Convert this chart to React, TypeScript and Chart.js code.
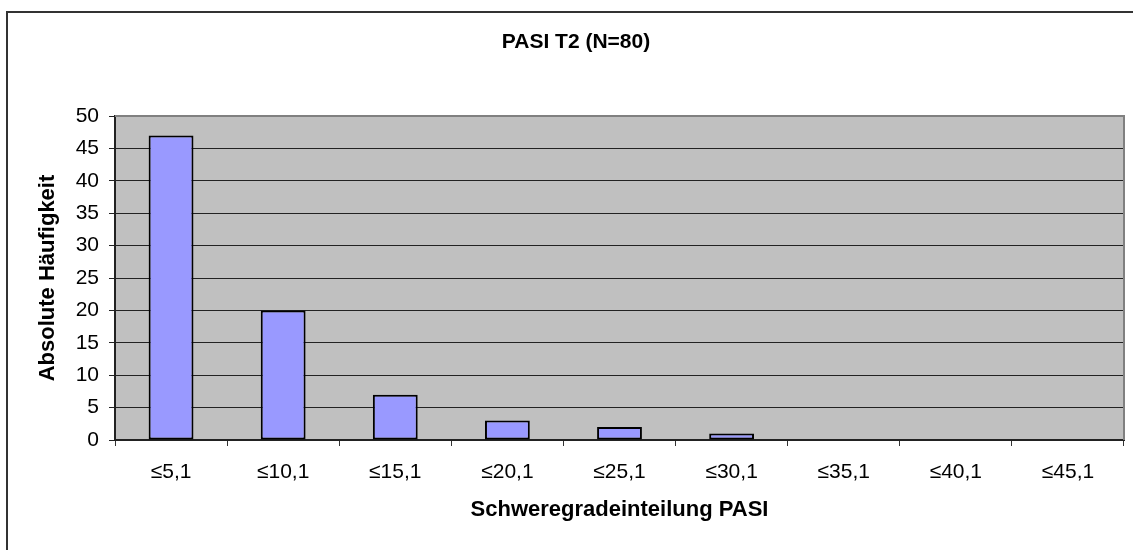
import React, { useEffect, useRef } from "react";
import { Chart, registerables } from "chart.js";

Chart.register(...registerables);

const categories = ["≤5,1", "≤10,1", "≤15,1", "≤20,1", "≤25,1", "≤30,1", "≤35,1", "≤40,1", "≤45,1"];
const counts = [47, 20, 7, 3, 2, 1, 0, 0, 0];
const chartTitle = "PASI T2 (N=80)";
const xTitle = "Schweregradeinteilung PASI";
const yTitle = "Absolute Häufigkeit";

const FONT = "'Liberation Sans', Arial, sans-serif";

const framePlugin = {
  id: "frame",
  beforeDraw(chart: any) {
    const { ctx, chartArea } = chart;
    const { left, top, right, bottom } = chartArea;
    ctx.save();
    ctx.fillStyle = "#ffffff";
    ctx.fillRect(0, 0, chart.width, chart.height);
    // outer chart border (left and top visible)
    ctx.strokeStyle = "#333333";
    ctx.lineWidth = 2;
    ctx.beginPath();
    ctx.moveTo(7, chart.height + 2);
    ctx.lineTo(7, 12);
    ctx.lineTo(chart.width + 2, 12);
    ctx.stroke();
    // plot area
    ctx.fillStyle = "#C0C0C0";
    ctx.fillRect(left, top, right - left, bottom - top);
    ctx.restore();
  },
  afterDatasetsDraw(chart: any) {
    const { ctx, chartArea } = chart;
    const { left, top, right, bottom } = chartArea;
    ctx.save();
    ctx.strokeStyle = "#808080";
    ctx.lineWidth = 2;
    ctx.beginPath();
    ctx.moveTo(left, top);
    ctx.lineTo(right, top);
    ctx.lineTo(right, bottom);
    ctx.stroke();
    // title
    ctx.fillStyle = "#000";
    ctx.font = `bold 21px ${FONT}`;
    ctx.textAlign = "center";
    ctx.textBaseline = "middle";
    ctx.fillText(chartTitle, 576, 42);
    ctx.restore();
  },
};

export default function App() {
  const ref = useRef<HTMLCanvasElement | null>(null);
  useEffect(() => {
    if (!ref.current) return;
    const chart = new Chart(ref.current, {
      type: "bar",
      data: {
        labels: categories,
        datasets: [
          {
            data: counts,
            backgroundColor: "#9999FF",
            borderColor: "#000000",
            borderWidth: 2,
            borderSkipped: false,
            categoryPercentage: 1,
            barPercentage: 0.4,
          },
        ],
      },
      options: {
        responsive: false,
        animation: false,
        layout: { padding: { left: 0, top: 116, right: 9, bottom: 0 } },
        plugins: {
          legend: { display: false },
          title: { display: false },
          tooltip: { enabled: false },
        },
        scales: {
          x: {
            offset: true,
            grid: {
              offset: true,
              drawOnChartArea: false,
              drawTicks: true,
              tickLength: 6,
              color: "#333333",
            },
            border: { color: "#222222", width: 2 },
            ticks: {
              color: "#000",
              font: { family: FONT, size: 21 },
              padding: 14,
              maxRotation: 0,
              autoSkip: false,
            },
            title: {
              display: true,
              text: xTitle,
              color: "#000",
              font: { family: FONT, size: 22, weight: "bold" },
              padding: { top: 0, bottom: 27 },
            },
            afterFit(scale: any) {
              scale.height = 110;
            },
          },
          y: {
            min: 0,
            max: 50,
            ticks: {
              stepSize: 5,
              color: "#000",
              font: { family: FONT, size: 21 },
              padding: 10,
            },
            grid: {
              color: "#222222",
              lineWidth: 1,
              tickLength: 6,
              drawTicks: true,
            },
            border: { color: "#222222", width: 2 },
            title: {
              display: true,
              text: yTitle,
              color: "#000",
              font: { family: FONT, size: 22, weight: "bold" },
              padding: { top: 35, bottom: 0 },
            },
            afterFit(scale: any) {
              scale.width = 115;
            },
          },
        },
      },
      plugins: [framePlugin],
    } as any);
    return () => chart.destroy();
  }, []);
  return (
    <div style={{ position: "fixed", left: 0, top: 0, width: 1133, height: 550, background: "#fff" }}>
      <canvas ref={ref} width={1133} height={550} style={{ display: "block" }} />
    </div>
  );
}
